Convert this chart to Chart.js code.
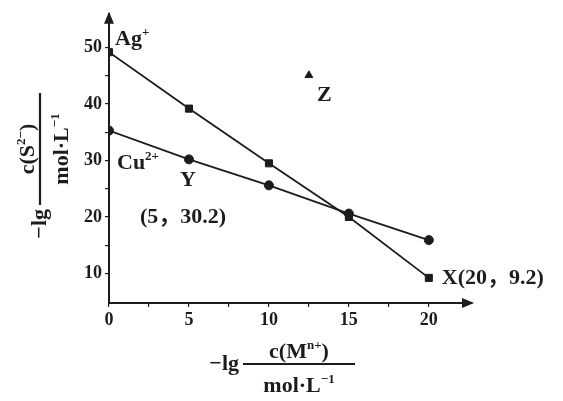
<!DOCTYPE html>
<html>
<head>
<meta charset="utf-8">
<script src="https://cdn.jsdelivr.net/npm/chart.js@4.4.1/dist/chart.umd.min.js"></script>
<style>
html,body{margin:0;padding:0;background:#fff;}
#c{display:block;}
</style>
</head>
<body>
<canvas id="c" width="563" height="401"></canvas>
<script>
// ---- data ----
const xValues = [0, 5, 10, 15, 20];
const agValues = [49.2, 39.2, 29.5, 20.0, 9.2];
const cuValues = [35.3, 30.2, 25.6, 20.6, 15.9];
const zPoint = [12.5, 45.1];
const xTickLabels = [0, 5, 10, 15, 20];
const yTickLabels = [10, 20, 30, 40, 50];
const xMinorTicks = [2.5, 7.5, 12.5, 17.5];
const yMinorTicks = [15, 25, 35, 45];

const INK = '#1c1c1c';
function fnt(size){ return 'bold ' + size + 'px "Liberation Serif", "Noto Sans CJK SC", serif'; }

function richWidth(ctx, parts, size){
  let w = 0;
  for (const [t, s] of parts){ ctx.font = fnt(s ? Math.round(size*0.6) : size); w += ctx.measureText(t).width; }
  return w;
}
function drawRich(ctx, parts, x, y, size, align){
  const w = richWidth(ctx, parts, size);
  let sx = align === 'center' ? x - w/2 : (align === 'right' ? x - w : x);
  ctx.textAlign = 'left';
  ctx.textBaseline = 'alphabetic';
  for (const [t, s] of parts){
    const sz = s ? Math.round(size*0.6) : size;
    ctx.font = fnt(sz);
    ctx.fillText(t, sx, s ? y - size*0.4 : y);
    sx += ctx.measureText(t).width;
  }
  return w;
}
// fraction drawn in local frame: bar centred at (cx, cy)
function drawFraction(ctx, cx, cy, prefix, num, den, size, barLen){
  ctx.fillStyle = INK; ctx.strokeStyle = INK;
  drawRich(ctx, num, cx, cy - 6, size, 'center');
  drawRich(ctx, den, cx, cy + Math.round(size*1.25), size, 'center');
  ctx.lineWidth = 2.2;
  ctx.beginPath(); ctx.moveTo(cx - barLen/2, cy); ctx.lineTo(cx + barLen/2, cy); ctx.stroke();
  drawRich(ctx, prefix, cx - barLen/2 - 4, cy + 6, size, 'right');
}

function stepTicks(major, minor){
  return major.concat(minor).sort((a,b)=>a-b).map(v => ({value: v}));
}

const decor = {
  id: 'decor',
  afterDraw(chart){
    const ctx = chart.ctx, a = chart.chartArea;
    const xs = chart.scales.x, ys = chart.scales.y;
    ctx.save();
    ctx.fillStyle = INK; ctx.strokeStyle = INK;
    // arrows
    ctx.beginPath();
    ctx.moveTo(a.left, a.top - 2); ctx.lineTo(a.left - 5, a.top + 10); ctx.lineTo(a.left + 5, a.top + 10); ctx.closePath(); ctx.fill();
    ctx.beginPath();
    ctx.moveTo(a.right + 2, a.bottom); ctx.lineTo(a.right - 10, a.bottom - 5); ctx.lineTo(a.right - 10, a.bottom + 5); ctx.closePath(); ctx.fill();

    const px = v => xs.getPixelForValue(v), py = v => ys.getPixelForValue(v);
    const L = 22;
    // annotations anchored to data points
    drawRich(ctx, [['Ag'], ['+', 1]], px(xValues[0]) + 6, py(agValues[0]) - 7, L, 'left');
    drawRich(ctx, [['Cu'], ['2+', 1]], px(xValues[0]) + 8, py(cuValues[0]) + 38, L, 'left');
    drawRich(ctx, [['Y']], px(xValues[1]) - 9, py(cuValues[1]) + 27, L, 'left');
    drawRich(ctx, [['(' + xValues[1] + '，' + cuValues[1] + ')']], px(xValues[1]) - 49, py(cuValues[1]) + 64, L, 'left');
    drawRich(ctx, [['Z']], px(zPoint[0]) + 8, py(zPoint[1]) + 26, L, 'left');
    drawRich(ctx, [['X(' + xValues[4] + '，' + agValues[4] + ')']], px(xValues[4]) + 13, py(agValues[4]) + 6, L, 'left');

    // x-axis title
    drawFraction(ctx, 299, 364, [['−lg']], [['c(M'], ['n+', 1], [')']], [['mol·L'], ['−1', 1]], 22, 112);
    // y-axis title (rotated)
    ctx.save();
    ctx.translate(40, 149);
    ctx.rotate(-Math.PI/2);
    drawFraction(ctx, 0, 0, [['−lg']], [['c(S'], ['2−', 1], [')']], [['mol·L'], ['−1', 1]], 22, 112);
    ctx.restore();
    ctx.restore();
  }
};

const tickFont = {family: '"Liberation Serif", serif', size: 18, weight: 'bold'};

new Chart(document.getElementById('c'), {
  type: 'scatter',
  data: {
    datasets: [
      {
        label: 'Ag+',
        data: xValues.map((x, i) => ({x: x, y: agValues[i]})),
        showLine: true,
        borderColor: INK, backgroundColor: INK, borderWidth: 1.8,
        pointStyle: 'rect', pointRadius: 5, pointBorderWidth: 1
      },
      {
        label: 'Cu2+',
        data: xValues.map((x, i) => ({x: x, y: cuValues[i]})),
        showLine: true,
        borderColor: INK, backgroundColor: INK, borderWidth: 1.8,
        pointStyle: 'circle', pointRadius: 4.5, pointBorderWidth: 1
      },
      {
        label: 'Z',
        data: [{x: zPoint[0], y: zPoint[1]}],
        showLine: false,
        borderColor: INK, backgroundColor: INK,
        pointStyle: 'triangle', pointRadius: 4.5, pointBorderWidth: 1
      }
    ]
  },
  options: {
    responsive: false,
    animation: false,
    devicePixelRatio: 1,
    layout: {padding: {left: 0, right: 91, top: 7, bottom: 0}},
    plugins: {legend: {display: false}, tooltip: {enabled: false}},
    scales: {
      x: {
        type: 'linear', min: 0, max: 22.7,
        afterBuildTicks: s => { s.ticks = stepTicks(xTickLabels, xMinorTicks); },
        afterFit: s => { s.height = 98; },
        ticks: {
          autoSkip: false, maxRotation: 0, padding: 3, color: INK, font: tickFont,
          callback: v => xTickLabels.includes(v) ? String(v) : ''
        },
        grid: {drawOnChartArea: false, drawTicks: true, tickLength: 4, color: INK, lineWidth: 1.2},
        border: {color: INK, width: 2}
      },
      y: {
        type: 'linear', min: 4.75, max: 56,
        afterBuildTicks: s => { s.ticks = stepTicks(yTickLabels, yMinorTicks); },
        afterFit: s => { s.width = 109; },
        ticks: {
          autoSkip: false, padding: 3, color: INK, font: tickFont,
          callback: v => yTickLabels.includes(v) ? String(v) : ''
        },
        grid: {drawOnChartArea: false, drawTicks: true, tickLength: 4, color: INK, lineWidth: 1.2},
        border: {color: INK, width: 2}
      }
    }
  },
  plugins: [decor]
});
</script>
</body>
</html>
